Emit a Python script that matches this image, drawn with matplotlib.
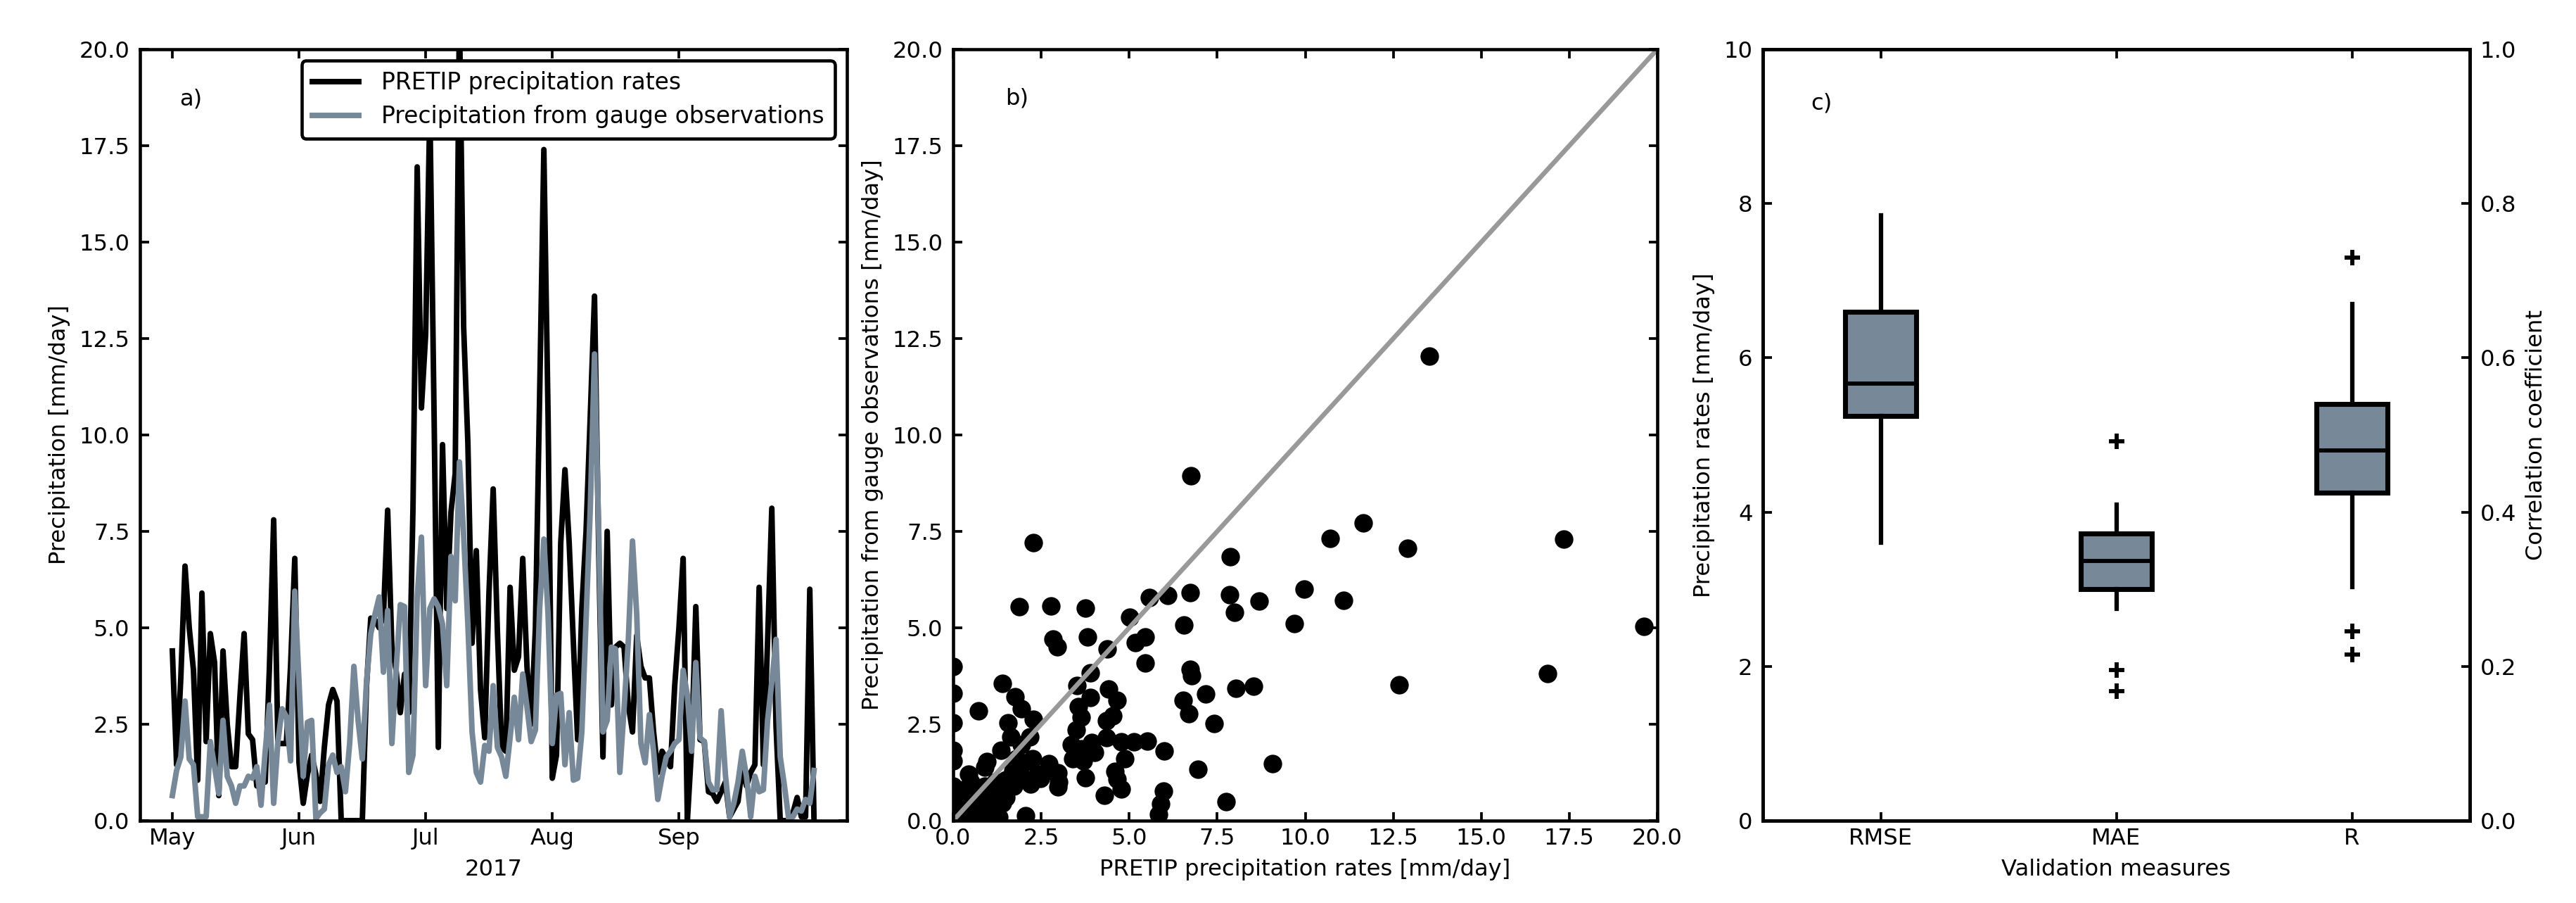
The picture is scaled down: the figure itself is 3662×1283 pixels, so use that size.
import matplotlib
matplotlib.use('Agg')
import matplotlib.pyplot as plt
import numpy as np

plt.rcParams['font.family'] = 'DejaVu Sans'
plt.rcParams['font.size'] = 7.75
plt.rcParams['axes.linewidth'] = 1.1

########## DATA ############################
# daily values, May to September 2017
pretip = [4.4, 1.45, 3.7, 6.6, 5.0, 3.9, 1.05, 5.9, 2.05, 4.85,
          4.1, 0.65, 4.4, 2.5, 1.4, 1.4, 3.2, 4.85, 2.25, 2.1,
          0.9, 1.1, 1.0, 4.0, 7.8, 2.0, 2.0, 2.0, 4.0, 6.8,
          1.5, 0.45, 1.2, 1.7, 1.2, 0.5, 1.9, 3.0, 3.4, 3.1,
          0.0, 0.0, 0.0, 0.0, 0.0, 0.0, 3.5, 5.25, 5.2, 5.0,
          5.3, 8.05, 4.5, 3.9, 2.8, 3.8, 2.8, 8.1, 16.95, 10.7,
          12.6, 18.5, 10.5, 1.9, 9.75, 5.5, 8.0, 9.0, 21.0, 12.8,
          9.8, 4.6, 7.0, 3.4, 2.15, 5.9, 8.6, 4.9, 1.9, 1.8,
          6.05, 3.9, 4.25, 6.8, 4.0, 2.5, 5.0, 11.0, 17.4, 10.5,
          1.1, 1.7, 7.2, 9.1, 7.2, 4.6, 2.1, 5.5, 7.5, 10.5,
          13.6, 7.0, 1.65, 7.5, 3.0, 4.5, 4.6, 4.5, 3.0, 2.3,
          4.8, 4.0, 3.7, 3.7, 2.3, 1.25, 1.8, 1.6, 1.4, 3.5,
          5.0, 6.8, 0.0, 1.9, 5.55, 2.1, 2.05, 0.75, 0.7, 0.5,
          0.75, 1.0, 0.1, 0.3, 0.5, 1.4, 0.9, 1.25, 1.45, 6.05,
          1.45, 4.65, 8.1, 2.45, 0.0, 0.0, 0.0, 0.2, 0.6, 0.1,
          0.1, 6.0, 0.0]

gauge = [0.65, 1.3, 1.65, 3.1, 1.6, 1.45, 0.1, 0.1, 0.1, 2.05,
         1.4, 0.7, 2.6, 1.15, 0.9, 0.45, 0.9, 0.9, 1.15, 1.1,
         1.4, 0.4, 1.8, 3.0, 0.45, 2.05, 2.9, 2.7, 1.55, 5.95,
         3.6, 1.15, 2.55, 2.6, 0.05, 0.2, 0.3, 1.45, 1.7, 1.25,
         1.4, 0.75, 2.0, 4.0, 2.6, 1.6, 3.6, 4.85, 5.35, 5.8,
         3.85, 5.45, 2.0, 3.9, 5.6, 5.55, 1.25, 1.7, 5.8, 7.35,
         3.5, 5.5, 5.75, 5.55, 5.1, 3.5, 6.85, 5.7, 9.3, 7.4,
         5.1, 2.3, 1.25, 1.0, 1.95, 1.8, 3.5, 1.9, 1.65, 1.15,
         2.15, 3.2, 2.1, 3.8, 2.95, 2.05, 2.35, 5.5, 7.3, 5.35,
         2.0, 3.25, 3.3, 1.45, 2.8, 1.05, 1.1, 2.3, 5.2, 8.1,
         12.1, 7.5, 2.3, 2.6, 4.5, 4.45, 1.25, 2.9, 4.65, 7.25,
         5.35, 2.0, 1.5, 2.75, 1.8, 0.55, 1.15, 1.65, 1.8, 2.0,
         2.1, 3.9, 3.25, 1.8, 4.1, 2.15, 2.05, 1.0, 0.8, 0.8,
         2.85, 1.2, 0.1, 0.45, 1.0, 1.8, 1.15, 0.1, 1.15, 0.75,
         0.8, 2.6, 3.6, 4.7, 1.65, 0.9, 0.05, 0.1, 0.3, 0.25,
         0.55, 0.45, 1.3]

month_ticks = [0, 30, 60, 90, 120]
month_labels = ['May', 'Jun', 'Jul', 'Aug', 'Sep']

# scatter of panel b
scatter_x = [13.53, 6.75, 11.65, 10.7, 17.35, 12.9, 2.28, 7.88, 9.98, 7.86,
             8.7, 11.08, 7.99, 6.73, 6.09, 5.57, 1.88, 2.78, 3.76, 5.02,
             6.55, 9.69, 19.63, 3.81, 2.83, 2.95, 5.46, 5.17, 4.38, 5.46,
             6.73, 6.78, 3.9, 0.0, 1.39, 3.52, 4.41, 8.03, 8.54, 12.67,
             16.88, 0.0, 1.76, 3.89, 4.65, 6.53, 7.18, 1.94, 3.55, 0.72,
             6.69, 4.54, 3.63, 0.0, 7.41, 1.56, 2.28, 4.36, 3.5, 2.17,
             1.64, 4.35, 3.93, 4.77, 5.13, 5.51, 3.35, 1.94, 6.0, 1.36,
             3.63, 4.01, 3.4, 3.7, 4.87, 2.25, 0.0, 0.0, 0.95, 9.07,
             2.71, 6.95, 2.98, 4.59, 0.44, 0.9, 3.75, 4.65, 2.98, 4.77,
             2.1, 2.48, 1.71, 1.41, 4.3, 5.97, 7.76, 5.89, 5.83, 2.05,
             0.0, 0.0, 0.0, 0.3, 0.5, 0.3, 0.7, 0.8, 1.0, 1.1,
             1.2, 1.3, 0.5, 0.2, 1.4, 1.5, 1.7, 1.9, 2.0, 1.2,
             0.6, 0.9, 1.0, 0.6, 0.4, 1.6, 1.8, 2.2, 2.4, 2.7,
             1.3, 1.5, 0.8, 3.0]
scatter_y = [12.05, 8.94, 7.71, 7.31, 7.3, 7.07, 7.2, 6.85, 6.0, 5.85,
             5.69, 5.72, 5.4, 5.92, 5.84, 5.79, 5.54, 5.56, 5.52, 5.28,
             5.08, 5.11, 5.04, 4.77, 4.7, 4.5, 4.77, 4.62, 4.46, 4.08,
             3.92, 3.76, 3.84, 4.0, 3.55, 3.51, 3.41, 3.43, 3.48, 3.52,
             3.81, 3.3, 3.22, 3.2, 3.12, 3.12, 3.28, 2.9, 2.95, 2.85,
             2.77, 2.71, 2.69, 2.54, 2.52, 2.53, 2.63, 2.59, 2.36, 2.18,
             2.18, 2.16, 2.02, 2.04, 2.04, 2.07, 1.97, 1.97, 1.8, 1.82,
             1.87, 1.77, 1.61, 1.56, 1.61, 1.61, 1.82, 1.56, 1.54, 1.48,
             1.48, 1.34, 1.25, 1.27, 1.2, 1.38, 1.12, 1.07, 0.87, 0.82,
             1.05, 1.1, 0.89, 0.84, 0.66, 0.77, 0.5, 0.43, 0.17, 0.12,
             0.9, 0.5, 0.1, 0.8, 1.0, 0.3, 0.7, 0.4, 0.1, 0.7,
             0.4, 0.1, 0.2, 0.1, 0.45, 1.05, 1.3, 1.2, 1.5, 1.0,
             0.6, 0.9, 0.25, 0.05, 0.5, 0.9, 1.6, 0.95, 1.2, 1.3,
             0.7, 0.6, 0.15, 1.0]
line_1to1 = [0, 20]

# boxplots of panel c
box_labels = ['RMSE', 'MAE']
box_q1 = [5.25, 3.0]
box_med = [5.67, 3.37]
box_q3 = [6.6, 3.72]
box_low = [3.6, 2.75]
box_high = [7.85, 4.1]
box_fliers = [[], [4.92, 1.95, 1.68]]

r_label = 'R'
r_q1 = 0.425
r_med = 0.48
r_q3 = 0.54
r_low = 0.303
r_high = 0.67
r_fliers = [0.73, 0.245, 0.215]

# colors
gris = 'lightslategray'

W, H = 3662, 1283


def panel(left, right, top=70, bottom=1166):
    return fig.add_axes([left/W, 1-bottom/H, (right-left)/W, (bottom-top)/H])


def estilo(ax):
    ax.tick_params(direction='in', top=True, right=True, length=3, width=0.9)


fig = plt.figure(figsize=(W/300, H/300), dpi=300)

########## a) ############################
ax1 = panel(199, 1204)
dias = np.arange(len(pretip))
ax1.plot(dias, pretip, color='black', lw=1.9, label='PRETIP precipitation rates')
ax1.plot(dias, gauge, color=gris, lw=1.9, label='Precipitation from gauge observations')
ax1.set_xlim(-7.67, 159.8)
ax1.set_ylim(0, 20)
ax1.set_yticks(np.arange(0, 20.1, 2.5))
ax1.set_xticks(month_ticks)
ax1.set_xticklabels(month_labels)
estilo(ax1)
ax1.tick_params(axis='x', pad=2.5)
ax1.set_xlabel('2017', labelpad=3)
ax1.set_ylabel('Precipitation [mm/day]', labelpad=3)
ax1.text(0.056, 0.935, 'a)', transform=ax1.transAxes, va='center')
leg = ax1.legend(loc='upper right', bbox_to_anchor=(0.983, 0.985), borderaxespad=0,
                 framealpha=1, edgecolor='black', fancybox=True, fontsize=7.9,
                 borderpad=0.45, labelspacing=0.45, handlelength=2.0, handletextpad=1.0)
leg.get_frame().set_linewidth(1.1)

########## b) ############################
ax2 = panel(1355, 2356)
ax2.scatter(scatter_x, scatter_y, s=40, color='black', linewidths=0)
ax2.plot(line_1to1, line_1to1, color='#999999', lw=1.6)
ax2.set_xlim(0, 20)
ax2.set_ylim(0, 20)
ax2.set_xticks(np.arange(0, 20.1, 2.5))
ax2.set_yticks(np.arange(0, 20.1, 2.5))
estilo(ax2)
ax2.tick_params(axis='x', pad=2.5)
ax2.set_xlabel('PRETIP precipitation rates [mm/day]', labelpad=3)
ax2.set_ylabel('Precipitation from gauge observations [mm/day]', labelpad=3)
ax2.text(0.074, 0.936, 'b)', transform=ax2.transAxes, va='center')

########## c) ############################
ax3 = panel(2506, 3511)
ax4 = ax3.twinx()


def cajas(ax, pos, etiquetas, q1, med, q3, low, high, fliers):
    stats = [dict(label=e, q1=a, med=m, q3=b, whislo=lo, whishi=hi, fliers=f)
             for e, a, m, b, lo, hi, f in zip(etiquetas, q1, med, q3, low, high, fliers)]
    ax.bxp(stats, positions=pos, widths=0.3, patch_artist=True, showcaps=False,
           boxprops=dict(facecolor=gris, edgecolor='black', linewidth=1.7),
           medianprops=dict(color='black', linewidth=1.4),
           whiskerprops=dict(color='black', linewidth=1.5),
           flierprops=dict(marker='+', markersize=5.5, markeredgecolor='black',
                           markeredgewidth=1.4))


cajas(ax3, [1, 2], box_labels, box_q1, box_med, box_q3, box_low, box_high, box_fliers)
cajas(ax4, [3], [r_label], [r_q1], [r_med], [r_q3], [r_low], [r_high], [r_fliers])
ax3.set_xlim(0.5, 3.5)
ax4.set_xlim(0.5, 3.5)
ax3.set_ylim(0, 10)
ax4.set_ylim(0, 1)
ax3.set_xticks([1, 2, 3])
ax3.set_xticklabels(box_labels + [r_label])
ax3.set_yticks(np.arange(0, 10.1, 2))
ax4.set_yticks(np.arange(0, 1.01, 0.2))
ax3.tick_params(direction='in', top=True, length=3, width=0.9)
ax3.tick_params(axis='x', pad=2.5)
ax4.tick_params(direction='in', length=3, width=0.9)
ax4.tick_params(axis='x', which='both', bottom=False, top=False, labelbottom=False)
ax3.set_xlabel('Validation measures', labelpad=3)
ax3.set_ylabel('Precipitation rates [mm/day]', labelpad=3)
ax4.set_ylabel('Correlation coefficient', labelpad=3)
ax3.text(0.068, 0.93, 'c)', transform=ax3.transAxes, va='center')

plt.savefig('out.png', dpi=300)
